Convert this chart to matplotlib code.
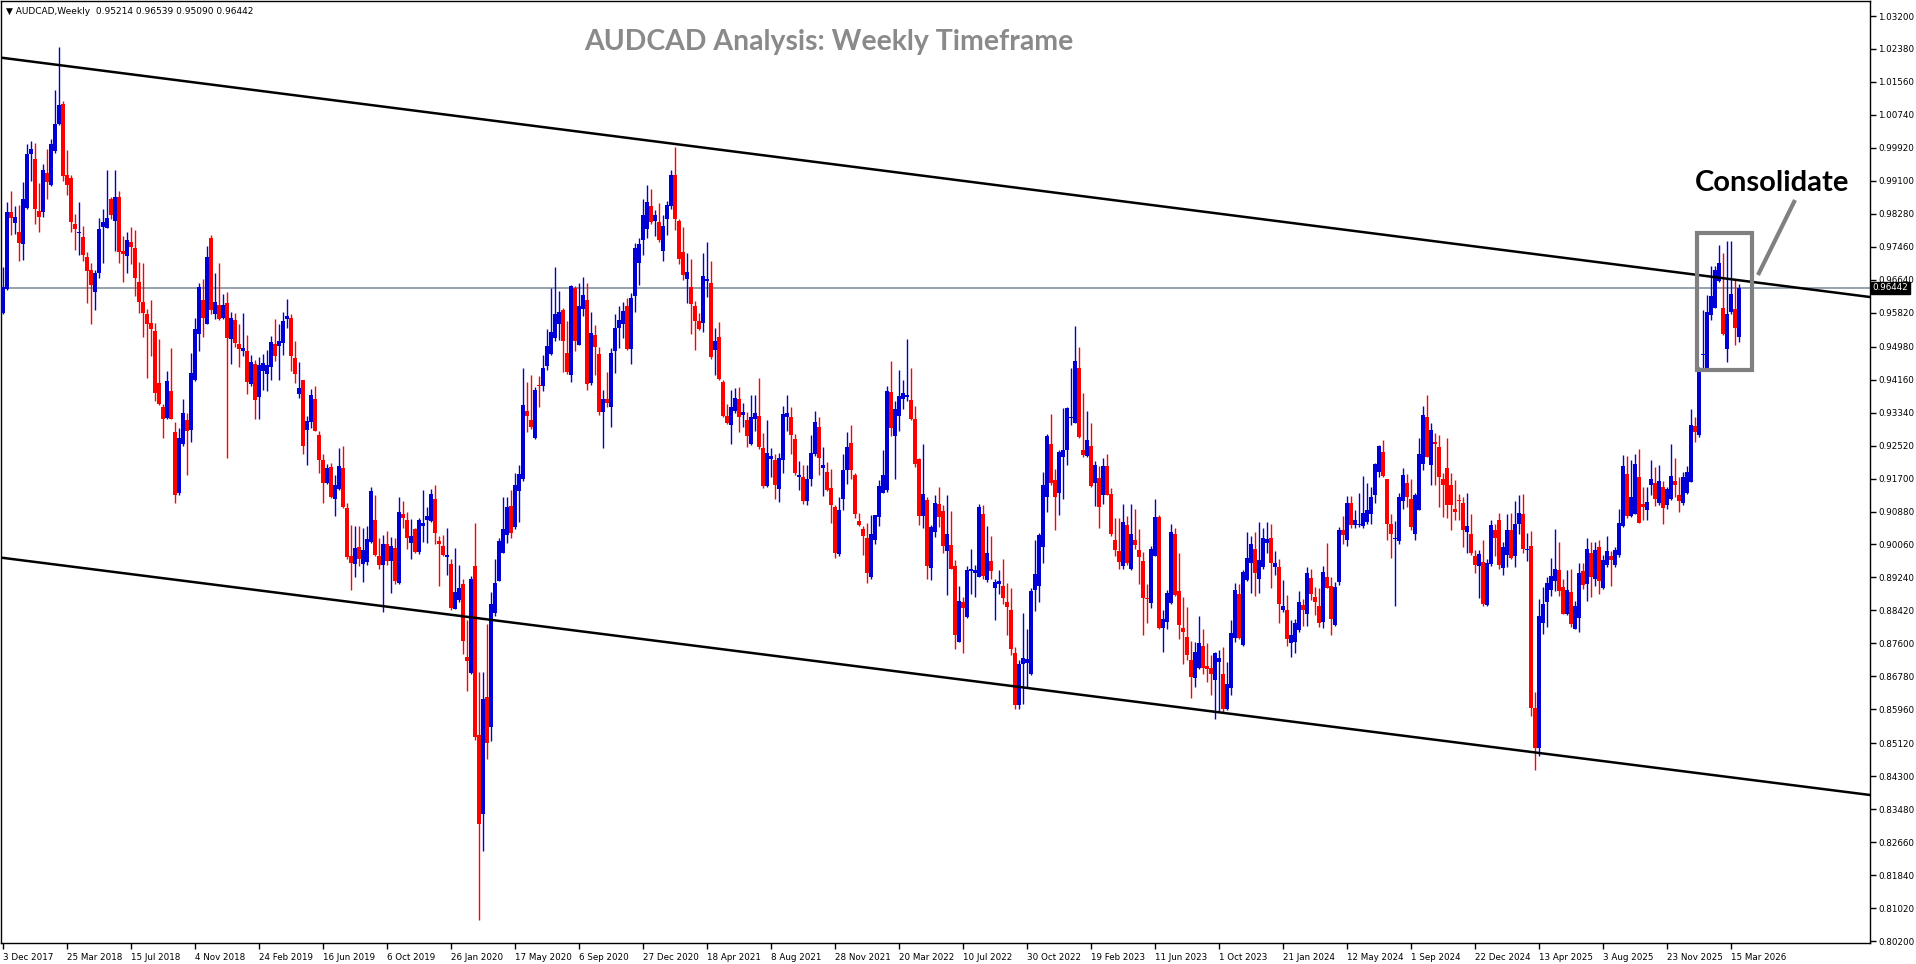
import numpy as np
import matplotlib.pyplot as plt
from matplotlib.patches import Rectangle

# weekly AUDCAD candles, prices in 1/10000 (pips), first bar = week of 3 Dec 2017
opens = [
    9581, 9642, 9832, 9806, 9784, 9753, 9843, 9976, 9965, 9836,
    9833, 9930, 9901, 9984, 10051, 10102, 9924, 9918, 9804, 9781,
    9771, 9722, 9689, 9634, 9680, 9796, 9793, 9866, 9810, 9871,
    9736, 9723, 9758, 9742, 9658, 9609, 9578, 9556, 9537, 9407,
    9347, 9320, 9387, 9286, 9134, 9255, 9315, 9291, 9414, 9530,
    9613, 9554, 9768, 9578, 9602, 9569, 9606, 9518, 9564, 9504,
    9486, 9488, 9404, 9455, 9372, 9438, 9431, 9448, 9504, 9499,
    9507, 9567, 9569, 9469, 9381, 9414, 9291, 9310, 9368, 9278,
    9217, 9158, 9198, 9120, 9143, 9197, 9096, 8978, 8958, 8999,
    8958, 8963, 9012, 9068, 8978, 8954, 9007, 8966, 8997, 8911,
    9083, 9068, 9009, 9045, 8988, 9053, 9068, 9064, 9120, 9015,
    9002, 8976, 8957, 8846, 8868, 8907, 8727, 8686, 8953, 8532,
    8335, 8628, 8552, 8835, 8916, 8986, 9030, 9102, 9049, 9138,
    9170, 9337, 9315, 9272, 9403, 9401, 9449, 9480, 9519, 9555,
    9589, 9483, 9427, 9643, 9503, 9591, 9614, 9407, 9528, 9480,
    9335, 9368, 9348, 9486, 9545, 9555, 9598, 9493, 9624, 9707,
    9762, 9791, 9848, 9811, 9808, 9736, 9815, 9848, 9924, 9811,
    9733, 9666, 9647, 9598, 9561, 9556, 9661, 9656, 9489, 9523,
    9410, 9326, 9302, 9337, 9368, 9328, 9315, 9256, 9318, 9326,
    9247, 9151, 9219, 9216, 9144, 9216, 9324, 9324, 9269, 9173,
    9174, 9115, 9168, 9230, 9298, 9197, 9186, 9147, 9098, 8982,
    9118, 9190, 9259, 9180, 9065, 9045, 9023, 8926, 9017, 9075,
    9135, 9141, 9386, 9276, 9326, 9367, 9373, 9365, 9319, 9218,
    9077, 9116, 8948, 9038, 9106, 9089, 8990, 9004, 8952, 8764,
    8862, 8826, 8941, 8936, 8926, 9083, 8917, 8965, 8897, 8907,
    8903, 8863, 8843, 8737, 8608, 8710, 8712, 8684, 8894, 8902,
    9000, 9123, 9255, 9166, 9133, 9224, 9242, 9321, 9309, 9445,
    9242, 9226, 9251, 9160, 9172, 9129, 9201, 9131, 9017, 8989,
    8952, 9054, 8944, 9017, 8992, 8965, 8873, 8861, 8977, 9075,
    8799, 8814, 8861, 9032, 8890, 8799, 8776, 8718, 8674, 8698,
    8753, 8703, 8699, 8669, 8713, 8685, 8596, 8650, 8774, 8882,
    8757, 8917, 8960, 8996, 8919, 8949, 9010, 9021, 8950, 8949,
    8843, 8843, 8762, 8764, 8793, 8855, 8834, 8923, 8876, 8853,
    8814, 8925, 8902, 8807, 8913, 9043, 9018, 9108, 9054, 9054,
    9052, 9062, 9081, 9130, 9187, 9235, 9168, 9056, 9019, 9015,
    9115, 9160, 9118, 9033, 9093, 9207, 9322, 9203, 9260, 9249,
    9168, 9195, 9153, 9095, 9116, 9108, 9037, 9031, 8977, 8952,
    8963, 8855, 8957, 9042, 9068, 8948, 8979, 9042, 8978, 9058,
    9081, 8992, 9002, 8600, 8500, 8811, 8863, 8892, 8915, 8942,
    8901, 8834, 8888, 8797, 8824, 8940, 8909, 8984, 8920, 9000,
    8899, 8955, 8977, 8955, 8979, 9052, 9181, 9076, 9083, 9174,
    9106, 9091, 9153, 9158, 9110, 9149, 9105, 9119, 9163, 9130,
    9110, 9133, 9162, 9300, 9278, 9477, 9439, 9576, 9595, 9662,
    9593, 9493, 9585, 9591, 9521,
]
highs = [
    9695, 9858, 9884, 9847, 9851, 9908, 10003, 10010, 10005, 9905,
    9953, 9989, 10013, 10136, 10243, 10109, 9986, 9924, 9828, 9858,
    9798, 9732, 9706, 9689, 9819, 9839, 9936, 9870, 9936, 9884,
    9773, 9782, 9795, 9787, 9708, 9706, 9592, 9613, 9556, 9518,
    9355, 9438, 9494, 9310, 9295, 9367, 9334, 9481, 9570, 9657,
    9665, 9749, 9776, 9680, 9705, 9630, 9633, 9583, 9581, 9554,
    9581, 9526, 9476, 9464, 9473, 9480, 9490, 9524, 9566, 9554,
    9583, 9616, 9578, 9512, 9459, 9414, 9325, 9393, 9400, 9289,
    9232, 9205, 9208, 9179, 9246, 9251, 9108, 9055, 9052, 9051,
    9047, 9051, 9148, 9130, 9021, 9030, 9039, 9025, 9023, 9125,
    9113, 9086, 9070, 9048, 9072, 9141, 9099, 9143, 9154, 9028,
    9030, 9048, 8969, 8997, 8956, 8920, 8818, 8927, 9059, 8690,
    8690, 8809, 8888, 8969, 9022, 9124, 9124, 9142, 9184, 9203,
    9444, 9410, 9427, 9397, 9424, 9476, 9543, 9644, 9697, 9637,
    9594, 9561, 9651, 9648, 9657, 9670, 9657, 9585, 9552, 9497,
    9390, 9434, 9495, 9578, 9598, 9608, 9618, 9631, 9756, 9769,
    9864, 9901, 9891, 9837, 9854, 9826, 9861, 9936, 9995, 9815,
    9795, 9730, 9716, 9611, 9582, 9730, 9758, 9710, 9545, 9559,
    9414, 9355, 9390, 9394, 9398, 9359, 9335, 9378, 9378, 9420,
    9282, 9315, 9245, 9230, 9234, 9351, 9378, 9348, 9280, 9213,
    9203, 9203, 9278, 9338, 9322, 9249, 9210, 9193, 9105, 9124,
    9232, 9286, 9302, 9184, 9085, 9052, 9059, 9079, 9079, 9166,
    9241, 9400, 9462, 9362, 9440, 9415, 9517, 9444, 9350, 9220,
    9255, 9125, 9054, 9129, 9148, 9104, 9130, 9089, 8967, 8902,
    8876, 8952, 8994, 8955, 9106, 9104, 9052, 9027, 8919, 8942,
    8969, 8911, 8897, 8752, 8718, 8836, 8797, 8898, 9017, 9035,
    9187, 9280, 9330, 9193, 9242, 9346, 9348, 9445, 9549, 9498,
    9382, 9338, 9309, 9214, 9201, 9222, 9231, 9147, 9071, 9071,
    9106, 9077, 9106, 9094, 9044, 8988, 8909, 9003, 9120, 9079,
    8843, 8892, 9057, 9047, 8984, 8876, 8851, 8766, 8764, 8828,
    8797, 8761, 8732, 8739, 8743, 8751, 8714, 8818, 8911, 8907,
    8942, 9038, 9027, 9036, 9062, 9046, 9062, 9058, 8989, 8971,
    8917, 8880, 8818, 8820, 8890, 8870, 8949, 8946, 8901, 8899,
    8952, 9010, 8925, 8913, 9050, 9076, 9126, 9126, 9091, 9135,
    9177, 9158, 9148, 9209, 9253, 9265, 9168, 9083, 9064, 9133,
    9197, 9182, 9168, 9133, 9271, 9350, 9377, 9307, 9282, 9279,
    9183, 9271, 9183, 9166, 9131, 9124, 9135, 9081, 8993, 8993,
    9018, 8971, 9068, 9058, 9085, 9013, 9083, 9085, 9114, 9129,
    9131, 9035, 9040, 8640, 8870, 8901, 8925, 8973, 9044, 9011,
    8920, 8942, 8946, 8866, 8960, 8960, 9021, 9011, 9013, 9017,
    8979, 9027, 8989, 9000, 9095, 9228, 9226, 9217, 9230, 9243,
    9149, 9149, 9216, 9199, 9203, 9163, 9149, 9257, 9220, 9174,
    9187, 9201, 9344, 9323, 9448, 9590, 9626, 9698, 9698, 9750,
    9731, 9760, 9760, 9667, 9654,
]
lows = [
    9578, 9640, 9775, 9777, 9711, 9713, 9839, 9910, 9804, 9782,
    9820, 9866, 9898, 9979, 10048, 9910, 9874, 9782, 9737, 9725,
    9711, 9606, 9554, 9589, 9668, 9706, 9792, 9815, 9735, 9706,
    9659, 9682, 9704, 9625, 9581, 9521, 9419, 9474, 9364, 9352,
    9271, 9317, 9317, 9108, 9129, 9251, 9178, 9262, 9412, 9488,
    9523, 9554, 9578, 9567, 9564, 9567, 9222, 9455, 9497, 9448,
    9474, 9381, 9400, 9317, 9317, 9390, 9388, 9414, 9461, 9415,
    9476, 9545, 9438, 9407, 9371, 9232, 9203, 9295, 9289, 9184,
    9108, 9156, 9122, 9077, 9141, 9096, 8971, 8893, 8926, 8952,
    8912, 8956, 9009, 8977, 8945, 8838, 8954, 8885, 8909, 8909,
    9048, 8994, 8971, 8985, 8983, 9011, 9009, 9061, 9006, 8903,
    8977, 8931, 8842, 8846, 8864, 8734, 8642, 8684, 8519, 8072,
    8243, 8473, 8517, 8828, 8914, 8984, 9009, 9023, 9045, 9063,
    9164, 9286, 9293, 9269, 9348, 9387, 9440, 9476, 9512, 9515,
    9436, 9431, 9410, 9486, 9503, 9574, 9390, 9403, 9427, 9328,
    9247, 9348, 9299, 9432, 9495, 9519, 9489, 9456, 9585, 9651,
    9726, 9769, 9804, 9772, 9758, 9712, 9776, 9841, 9789, 9703,
    9664, 9607, 9530, 9489, 9539, 9535, 9622, 9466, 9427, 9414,
    9322, 9306, 9256, 9332, 9286, 9299, 9249, 9253, 9289, 9243,
    9147, 9148, 9174, 9118, 9111, 9184, 9289, 9232, 9180, 9141,
    9107, 9105, 9151, 9226, 9180, 9127, 9138, 9059, 8973, 8977,
    9092, 9157, 9170, 9072, 9052, 8980, 8910, 8921, 9007, 9052,
    9133, 9137, 9276, 9168, 9288, 9344, 9363, 9315, 9199, 9054,
    9047, 8921, 8917, 9025, 9050, 8984, 8880, 8944, 8745, 8764,
    8735, 8824, 8884, 8876, 8926, 8921, 8913, 8921, 8818, 8884,
    8859, 8782, 8731, 8598, 8598, 8609, 8652, 8681, 8840, 8862,
    8959, 9087, 9155, 9043, 9079, 9120, 9203, 9303, 9307, 9271,
    9224, 9224, 9148, 9102, 9046, 9106, 9129, 9028, 8978, 8946,
    8945, 8956, 8942, 8996, 8909, 8782, 8810, 8849, 8977, 8797,
    8739, 8795, 8859, 8878, 8772, 8710, 8718, 8625, 8652, 8696,
    8685, 8664, 8631, 8571, 8590, 8587, 8594, 8633, 8764, 8772,
    8753, 8915, 8886, 8878, 8886, 8946, 8985, 8897, 8930, 8812,
    8839, 8754, 8727, 8737, 8789, 8804, 8803, 8867, 8830, 8801,
    8799, 8897, 8782, 8803, 8905, 9006, 9003, 9048, 9048, 9050,
    9047, 9058, 9056, 9110, 9173, 9174, 9017, 8973, 8853, 9007,
    9095, 9098, 9042, 9017, 9091, 9191, 9224, 9153, 9153, 9100,
    9075, 9071, 9042, 9066, 9066, 9000, 8984, 8981, 8935, 8873,
    8853, 8853, 8953, 8977, 8944, 8930, 8950, 8969, 8950, 9033,
    8985, 8964, 8580, 8445, 8480, 8783, 8801, 8877, 8890, 8877,
    8833, 8830, 8801, 8795, 8789, 8896, 8866, 8876, 8902, 8882,
    8896, 8950, 8902, 8950, 8975, 9050, 9073, 9075, 9081, 9060,
    9066, 9066, 9129, 9101, 9105, 9056, 9095, 9116, 9124, 9087,
    9104, 9131, 9162, 9261, 9274, 9441, 9439, 9564, 9593, 9659,
    9527, 9460, 9580, 9502, 9509,
]
closes = [
    9647, 9832, 9817, 9820, 9756, 9866, 9978, 9990, 9841, 9821,
    9936, 9908, 10002, 10052, 10099, 9922, 9901, 9808, 9790, 9783,
    9725, 9686, 9651, 9680, 9790, 9809, 9818, 9825, 9871, 9732,
    9728, 9764, 9746, 9668, 9609, 9582, 9554, 9542, 9383, 9355,
    9317, 9412, 9319, 9129, 9270, 9333, 9289, 9432, 9541, 9646,
    9570, 9722, 9589, 9608, 9567, 9602, 9519, 9570, 9507, 9491,
    9494, 9409, 9459, 9366, 9453, 9457, 9452, 9509, 9474, 9512,
    9561, 9573, 9474, 9431, 9395, 9251, 9314, 9378, 9289, 9217,
    9158, 9196, 9125, 9153, 9201, 9098, 8975, 8961, 8997, 8971,
    8993, 9020, 9139, 8980, 8955, 9007, 8966, 9002, 8914, 9087,
    9073, 9021, 9028, 8988, 9067, 9059, 9078, 9132, 9035, 9006,
    8980, 8980, 8848, 8888, 8898, 8765, 8717, 8920, 8528, 8311,
    8621, 8513, 8859, 8911, 9015, 9045, 9098, 9035, 9155, 9181,
    9352, 9326, 9298, 9390, 9399, 9444, 9499, 9535, 9578, 9585,
    9512, 9436, 9648, 9512, 9598, 9627, 9405, 9532, 9497, 9335,
    9368, 9359, 9482, 9545, 9565, 9587, 9493, 9618, 9743, 9753,
    9824, 9857, 9808, 9826, 9762, 9798, 9851, 9924, 9815, 9716,
    9677, 9683, 9605, 9561, 9543, 9673, 9666, 9473, 9512, 9418,
    9326, 9309, 9348, 9370, 9324, 9335, 9276, 9324, 9332, 9249,
    9151, 9234, 9227, 9155, 9220, 9331, 9332, 9278, 9184, 9180,
    9115, 9170, 9234, 9311, 9220, 9203, 9141, 9105, 8984, 9092,
    9190, 9249, 9190, 9081, 9055, 9026, 8934, 9031, 9079, 9151,
    9178, 9388, 9296, 9342, 9375, 9382, 9377, 9319, 9207, 9077,
    9131, 8953, 9050, 9108, 9075, 9003, 9033, 8946, 8782, 8865,
    8847, 8942, 8946, 8942, 9100, 8927, 8984, 8940, 8913, 8915,
    8873, 8851, 8746, 8606, 8708, 8725, 8722, 8890, 8932, 9029,
    9154, 9275, 9158, 9123, 9236, 9241, 9346, 9324, 9462, 9274,
    9228, 9267, 9151, 9203, 9100, 9201, 9130, 9032, 8992, 8963,
    9061, 8961, 9031, 9004, 8975, 8873, 8870, 8994, 9075, 8799,
    8822, 8886, 9036, 8880, 8805, 8789, 8731, 8677, 8739, 8760,
    8698, 8696, 8683, 8735, 8724, 8598, 8658, 8785, 8894, 8774,
    8938, 8973, 9008, 8934, 8967, 9021, 9019, 8960, 8961, 8858,
    8853, 8770, 8781, 8810, 8863, 8843, 8934, 8884, 8863, 8811,
    8938, 8898, 8822, 8901, 9043, 9029, 9110, 9054, 9066, 9056,
    9085, 9093, 9123, 9205, 9250, 9177, 9056, 9031, 9022, 9123,
    9180, 9124, 9050, 9130, 9232, 9328, 9224, 9290, 9257, 9174,
    9153, 9104, 9105, 9087, 9113, 9043, 9051, 8984, 8956, 8982,
    8858, 8961, 9054, 9023, 8956, 9000, 9042, 8973, 9058, 9085,
    8996, 8995, 8600, 8500, 8828, 8859, 8911, 8927, 8944, 8891,
    8834, 8892, 8809, 8853, 8934, 8906, 8996, 8925, 8992, 8915,
    8967, 8989, 8967, 8992, 9060, 9201, 9076, 9124, 9206, 9060,
    9100, 9112, 9170, 9118, 9163, 9097, 9144, 9177, 9153, 9115,
    9174, 9187, 9303, 9286, 9445, 9480, 9585, 9624, 9688, 9705,
    9529, 9580, 9630, 9545, 9644,
]

date_labels = ['3 Dec 2017', '25 Mar 2018', '15 Jul 2018', '4 Nov 2018', '24 Feb 2019',
               '16 Jun 2019', '6 Oct 2019', '26 Jan 2020', '17 May 2020', '6 Sep 2020',
               '27 Dec 2020', '18 Apr 2021', '8 Aug 2021', '28 Nov 2021', '20 Mar 2022',
               '10 Jul 2022', '30 Oct 2022', '19 Feb 2023', '11 Jun 2023', '1 Oct 2023',
               '21 Jan 2024', '12 May 2024', '1 Sep 2024', '22 Dec 2024', '13 Apr 2025',
               '3 Aug 2025', '23 Nov 2025', '15 Mar 2026']
price_ticks = ['1.03200', '1.02380', '1.01560', '1.00740', '0.99920', '0.99100', '0.98280',
               '0.97460', '0.96640', '0.95820', '0.94980', '0.94160', '0.93340', '0.92520',
               '0.91700', '0.90880', '0.90060', '0.89240', '0.88420', '0.87600', '0.86780',
               '0.85960', '0.85120', '0.84300', '0.83480', '0.82660', '0.81840', '0.81020',
               '0.80200']
last_price = 0.96442
# channel lines drawn on the chart: (bar index, price)
upper_line = [(-0.75, 1.02168), (466.75, 0.96213)]
lower_line = [(-0.75, 0.89737), (466.75, 0.83832)]

o = np.array(opens) / 10000
h = np.array(highs) / 10000
l = np.array(lows) / 10000
c = np.array(closes) / 10000
idx = np.arange(len(c))

BLUE = '#0000d6'
RED = '#ff0000'

W, H = 1916, 964
fig = plt.figure(figsize=(W / 100, H / 100), dpi=100)
ax = fig.add_axes([1 / W, 21 / H, 1869 / W, 942 / H])

up = c >= o
cols = np.where(up, BLUE, RED)
top = np.maximum(o, c)
bot = np.minimum(o, c)
ax.vlines(idx, np.minimum(l, bot), np.maximum(h, top), colors=cols, lw=1.0, zorder=3)
ax.bar(idx, np.maximum(top - bot, 0.00025), bottom=bot, width=0.78, color=cols,
       linewidth=0, zorder=3)

# channel
ax.plot(*zip(*upper_line), color='black', lw=1.8, zorder=4)
ax.plot(*zip(*lower_line), color='black', lw=1.8, zorder=4)
ax.axhline(last_price, color='#7a8898', lw=1.1, zorder=2)

# consolidation box + pointer
ax.add_patch(Rectangle((423.5, 0.94398), 13.75, 0.03407, fill=False,
                       ec='#808080', lw=3, zorder=5))
ax.plot([438.75, 448.0], [0.96760, 0.98625], color='#808080', lw=3,
        solid_capstyle='butt', zorder=5)

ax.set_xlim(-0.5, 466.75)
ax.set_ylim(0.80152, 1.03573)

ax.set_xticks(np.arange(len(date_labels)) * 16)
ax.set_xticklabels(date_labels, ha='left', fontsize=6.3)
ax.set_yticks([float(t) for t in price_ticks])
ax.set_yticklabels(price_ticks, fontsize=6.3)
ax.yaxis.tick_right()
ax.tick_params(axis='both', direction='out', length=4, width=1, colors='black', pad=2)
ax.tick_params(axis='x', pad=3)
for s in ax.spines.values():
    s.set_color('black')
    s.set_linewidth(1)

ax.text(1.0012, last_price, '%.5f' % last_price, transform=ax.get_yaxis_transform(),
        color='white', fontsize=6.3, va='center', ha='left',
        bbox=dict(facecolor='black', edgecolor='black', pad=1.2), zorder=6, clip_on=False)

fig.text(6 / W, 1 - 11 / H, '\u25bc AUDCAD,Weekly  0.95214 0.96539 0.95090 0.96442',
         fontsize=6.5, va='center', ha='left', color='black')
fig.text(829 / W, 1 - 50 / H, 'AUDCAD Analysis: Weekly Timeframe', fontsize=20.4,
         fontweight='bold', family='Lato', color='#8a8a8a', ha='center', va='baseline')
fig.text(1772 / W, 1 - 191 / H, 'Consolidate', fontsize=21, fontweight='bold',
         family='Lato', color='black', ha='center', va='baseline')

fig.savefig('out.png', dpi=100)
